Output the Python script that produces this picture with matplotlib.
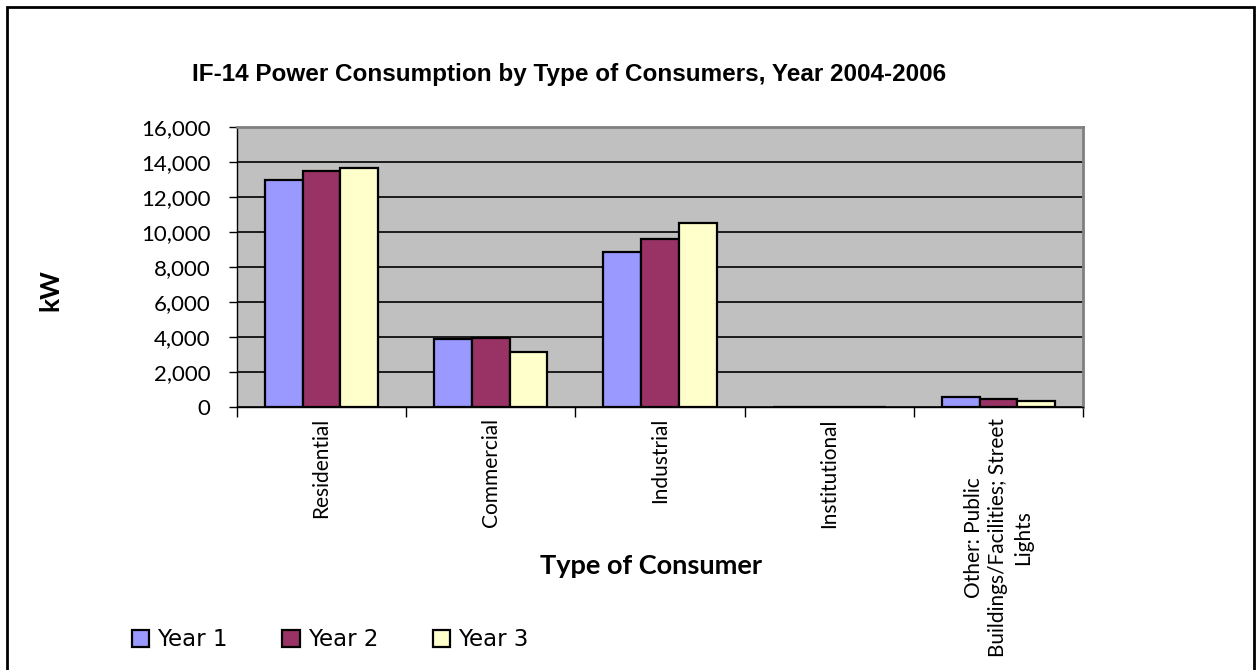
import matplotlib.pyplot as plt
import matplotlib.patches as mpatches
import numpy as np

categories = ['Residential', 'Commercial', 'Industrial', 'Institutional',
              'Other: Public\nBuildings/Facilities; Street\nLights']
year1 = [12950, 3900, 8840, 0, 590]
year2 = [13500, 3920, 9620, 0, 480]
year3 = [13680, 3120, 10500, 0, 320]
series = ['Year 1', 'Year 2', 'Year 3']
colors = ['#9999FF', '#993366', '#FFFFCC']

W, H = 1258, 670
fig = plt.figure(figsize=(W / 100, H / 100), dpi=100)
ax = fig.add_axes([237 / W, 1 - 407 / H, 846 / W, 280 / H])
ax.set_facecolor('#C0C0C0')

x = np.arange(len(categories))
bw = 0.223
handles = []
for i, (vals, c) in enumerate(zip([year1, year2, year3], colors)):
    b = ax.bar(x + (i - 1) * bw, vals, bw, color=c, edgecolor='black',
               linewidth=1.6, zorder=3, label=series[i])
    handles.append(b)

ax.set_xlim(-0.5, len(categories) - 0.5)
ax.set_ylim(0, 16000)
ax.set_yticks(np.arange(0, 16001, 2000))
ax.set_yticklabels([f'{v:,}' for v in range(0, 16001, 2000)],
                   fontsize=16, family='Lato')
ax.yaxis.grid(True, color='black', linewidth=1.2, zorder=1)
ax.set_axisbelow(True)

# category boundaries carry the ticks, labels sit in the middle
ax.set_xticks(np.arange(-0.5, len(categories), 1.0))
ax.set_xticklabels([])
ax.set_xticks(x, minor=True)
ax.set_xticklabels(categories, minor=True, rotation=90, fontsize=15,
                   family='Lato', va='top', ha='center', multialignment='center',
                   linespacing=1.3)
ax.tick_params(axis='x', which='minor', length=0, pad=8)
ax.tick_params(axis='x', which='major', length=7, width=1, direction='out')
ax.tick_params(axis='y', length=6, width=1, direction='out', pad=13)

for s in ['left', 'bottom']:
    ax.spines[s].set_color('black')
    ax.spines[s].set_linewidth(1)
for s in ['top', 'right']:
    ax.spines[s].set_color('#808080')
    ax.spines[s].set_linewidth(2)

fig.text(569 / W, 1 - 74 / H, 'IF-14 Power Consumption by Type of Consumers, Year 2004-2006',
         ha='center', va='center', fontsize=17.5, fontweight='bold',
         family='Liberation Sans')
fig.text(50 / W, 1 - 290 / H, 'kW', rotation=90, ha='center', va='center',
         fontsize=19, fontweight='bold', family='Lato')
fig.text(651 / W, 1 - 566 / H, 'Type of Consumer', ha='center', va='center',
         fontsize=19.5, fontweight='bold', family='Lato')

fig.legend(handles=handles, labels=series, loc='center left',
           bbox_to_anchor=(111 / W, 1 - 640 / H), ncol=3, frameon=False,
           handlelength=0.75, handleheight=0.75, handletextpad=0.35,
           columnspacing=2.4, prop={'family': 'DejaVu Sans', 'size': 16.5})

fig.patches.append(mpatches.Rectangle((7 / W, -0.05), 1247 / W, 1.05 - 7 / H,
                                      transform=fig.transFigure, fill=False,
                                      edgecolor='black', linewidth=2))

fig.savefig('out.png', dpi=100)
